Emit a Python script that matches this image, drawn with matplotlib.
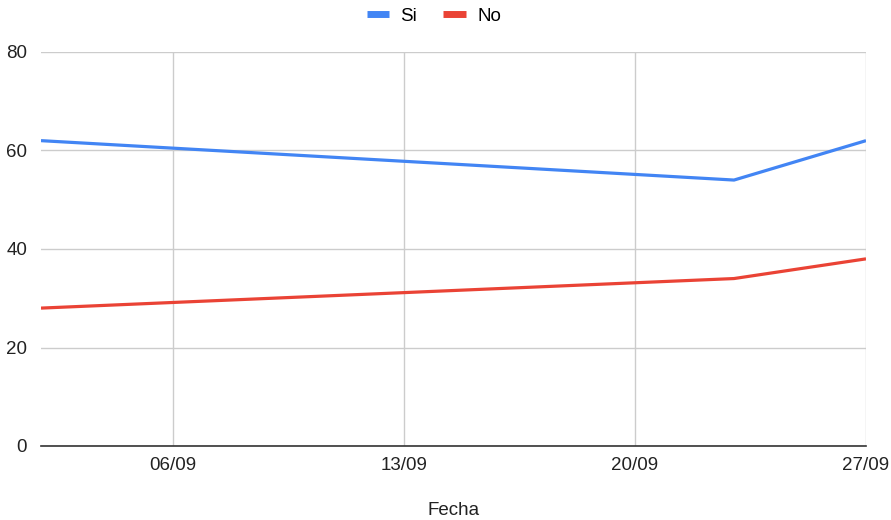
import datetime as dt
import matplotlib
matplotlib.use("Agg")
import matplotlib.pyplot as plt
import matplotlib.dates as mdates

plt.rcParams['font.family'] = ['Liberation Sans', 'DejaVu Sans']

fechas = ["2020-09-02", "2020-09-23", "2020-09-27"]
si = [62, 54, 62]
no = [28, 34, 38]
x_ticks = ["2020-09-06", "2020-09-13", "2020-09-20", "2020-09-27"]
y_ticks = [0, 20, 40, 60, 80]

def to_dates(vals):
    return [dt.datetime.strptime(v, "%Y-%m-%d") for v in vals]

x = to_dates(fechas)
xt = to_dates(x_ticks)

fig = plt.figure(figsize=(8.91, 5.20), dpi=100)
ax = fig.add_axes([41/891, 1 - 446/520, (866 - 41)/891, (446 - 52)/520])

ax.plot(x, si, color="#4285F4", lw=2.3, label="Si", solid_capstyle="butt", zorder=3)
ax.plot(x, no, color="#EA4335", lw=2.3, label="No", solid_capstyle="butt", zorder=3)

ax.set_xlim(x[0], x[-1])
ax.set_ylim(0, 80)
ax.set_xticks(xt)
ax.xaxis.set_major_formatter(mdates.DateFormatter("%d/%m"))
ax.set_yticks(y_ticks)

ax.grid(True, color="#cccccc", lw=1)
ax.set_axisbelow(True)
for s in ["top", "right", "left"]:
    ax.spines[s].set_visible(False)
ax.spines["bottom"].set_color("#333333")
ax.spines["bottom"].set_linewidth(1.2)
ax.spines["bottom"].set_zorder(4)

ax.tick_params(axis="both", length=0, labelsize=13.5, colors="#222222")
ax.tick_params(axis="x", pad=8)
ax.tick_params(axis="y", pad=10)

ax.set_xlabel("Fecha", fontsize=13.5, color="#222222", labelpad=20)

leg = fig.legend(loc="upper center", bbox_to_anchor=(0.487, 1.018), ncol=2, frameon=False,
                 fontsize=13.5, handlelength=1.2, handletextpad=0.6, columnspacing=1.4)
for line in leg.get_lines():
    line.set_linewidth(5)

fig.savefig("out.png", dpi=100)
